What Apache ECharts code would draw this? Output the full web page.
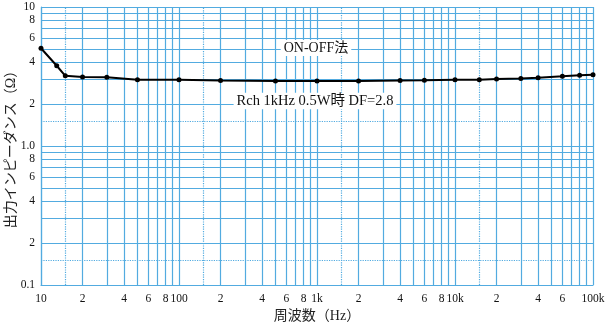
<!DOCTYPE html>
<html>
<head>
<meta charset="utf-8">
<script src="https://cdn.jsdelivr.net/npm/echarts@6/dist/echarts.min.js"></script>
<style>
  html, body { margin: 0; padding: 0; background: #fff; }
  #chart { width: 610px; height: 325px; }
</style>
</head>
<body>
<div id="chart"></div>
<script>
// Output impedance vs. frequency (ON-OFF method)
const freqHz = [10, 13, 15, 20, 30, 50, 100, 200, 500, 1000, 2000, 4000, 6000,
  10000, 15000, 20000, 30000, 40000, 60000, 80000, 100000];
const impedanceOhm = [5.05, 3.78, 3.2, 3.14, 3.12, 3.0, 3.0, 2.96, 2.94, 2.94, 2.94, 2.96, 2.97,
  3.0, 3.0, 3.04, 3.06, 3.1, 3.17, 3.23, 3.25];

// Grid positions per decade: solid at 1..9, dotted at 1.5
const xDecades = [10, 100, 1000, 10000];
const yDecades = [0.1, 1];
const solidMantissas = [1, 2, 3, 4, 5, 6, 7, 8, 9];
const dottedMantissa = 1.5;
const labelMantissas = [1, 2, 4, 6, 8];
const xMax = 100000;
const yMax = 10;

const xLabelText = { 10: '10', 100: '100', 1000: '1k', 10000: '10k', 100000: '100k' };
const yLabelText = { 0.1: '0.1', 1: '1.0', 10: '10' };

const fix = v => parseFloat(v.toPrecision(6));
function gridValues(decades, mantissas, top) {
  const out = [];
  decades.forEach(d => mantissas.forEach(m => out.push(fix(d * m))));
  if (top != null) out.push(top);
  return out;
}
const xSolid = gridValues(xDecades, solidMantissas, xMax);
const ySolid = gridValues(yDecades, solidMantissas, yMax);
const xDotted = gridValues(xDecades, [dottedMantissa]);
const yDotted = gridValues(yDecades, [dottedMantissa]);
const xLabels = gridValues(xDecades, labelMantissas, xMax);
const yLabels = gridValues(yDecades, labelMantissas, yMax);

function mantissaText(v, table) {
  if (table[v] !== undefined) return table[v];
  const e = Math.floor(Math.log10(v) + 1e-9);
  return String(Math.round(v / Math.pow(10, e)));
}

const gridBlue = '#52abe0';
const serif = '"Liberation Serif", "Noto Sans CJK JP", serif';

const chart = echarts.init(document.getElementById('chart'), null, { renderer: 'canvas' });

chart.setOption({
  animation: false,
  backgroundColor: '#fff',
  grid: { left: 41, right: 17, top: 7, bottom: 40, containLabel: false, outerBoundsMode: 'none' },
  xAxis: {
    type: 'log', logBase: 10, min: 10, max: xMax,
    name: '周波数（Hz）', nameLocation: 'middle', nameGap: 22,
    nameTextStyle: { fontFamily: serif, fontSize: 14, color: '#222' },
    axisLine: { show: true, lineStyle: { color: gridBlue, width: 1.2 } },
    axisTick: { show: false, customValues: xSolid },
    axisLabel: {
      customValues: xLabels, margin: 8, color: '#111', fontFamily: serif, fontSize: 11.5,
      showMinLabel: true, showMaxLabel: true, hideOverlap: false,
      formatter: v => mantissaText(fix(v), xLabelText)
    },
    splitLine: { show: true, lineStyle: { color: gridBlue, width: 1.2 } }
  },
  yAxis: {
    type: 'log', logBase: 10, min: 0.1, max: yMax,
    name: '出力インピーダンス（Ω）', nameLocation: 'middle', nameGap: 23, nameRotate: 90,
    nameMoveOverlap: false,
    nameTextStyle: { fontFamily: serif, fontSize: 14, color: '#222' },
    axisLine: { show: true, lineStyle: { color: gridBlue, width: 1.2 } },
    axisTick: { show: false, customValues: ySolid },
    axisLabel: {
      customValues: yLabels, margin: 6, color: '#111', fontFamily: serif, fontSize: 11.5,
      showMinLabel: true, showMaxLabel: true, hideOverlap: false,
      formatter: v => mantissaText(fix(v), yLabelText)
    },
    splitLine: { show: true, lineStyle: { color: gridBlue, width: 1.2 } }
  },
  series: [
    {
      type: 'line',
      data: freqHz.map((f, i) => [f, impedanceOhm[i]]),
      symbol: 'circle', symbolSize: 5,
      lineStyle: { color: '#000', width: 2 },
      itemStyle: { color: '#000' },
      z: 5,
      markLine: {
        silent: true, symbol: 'none', label: { show: false },
        lineStyle: { color: gridBlue, type: 'dotted', width: 1.2 },
        data: xDotted.map(v => ({ xAxis: v })).concat(yDotted.map(v => ({ yAxis: v }))),
        z: 1
      }
    }
  ],
  graphic: [
    {
      type: 'text', x: 316, y: 48, z: 10,
      style: {
        text: 'ON-OFF法', fontFamily: serif, fontSize: 14, fill: '#111',
        align: 'center', verticalAlign: 'middle',
        backgroundColor: '#fff', padding: [1, 3]
      }
    },
    {
      type: 'text', x: 315, y: 101, z: 10,
      style: {
        text: 'Rch 1kHz 0.5W時 DF=2.8', fontFamily: serif, fontSize: 14.5, fill: '#111',
        align: 'center', verticalAlign: 'middle',
        backgroundColor: '#fff', padding: [1, 3]
      }
    }
  ]
});
</script>
</body>
</html>
